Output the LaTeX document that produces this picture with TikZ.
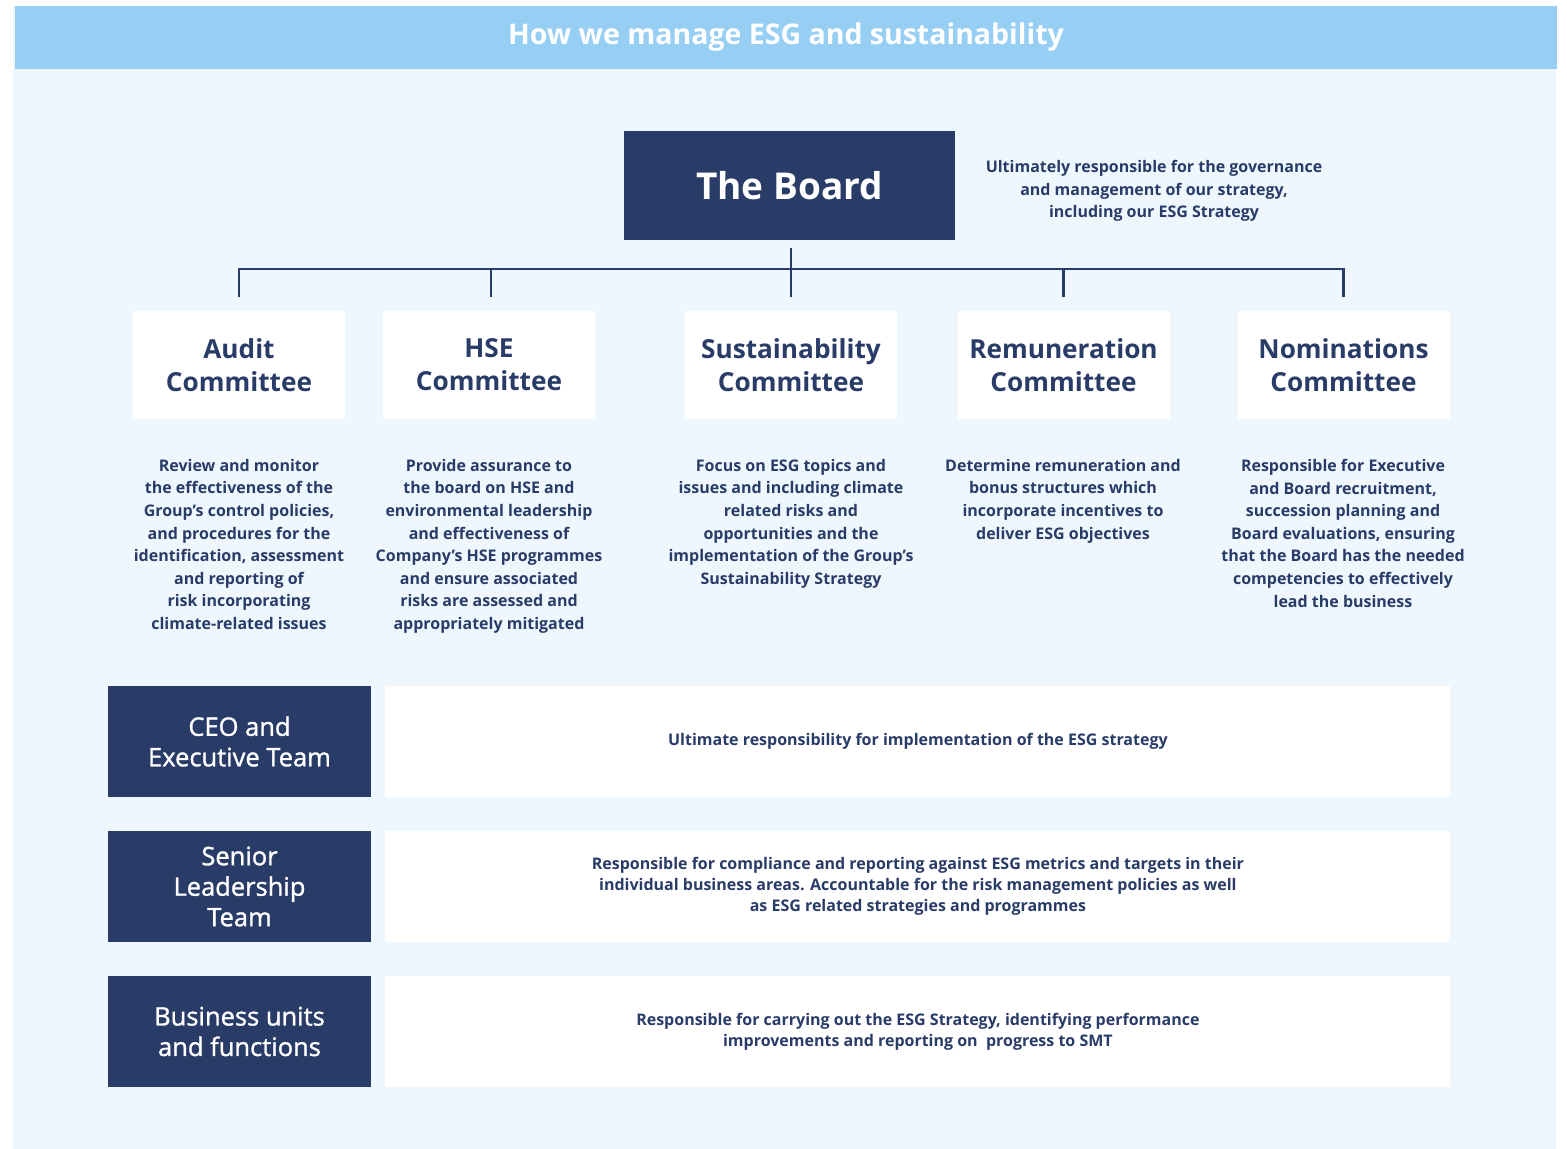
\documentclass[tikz,border=0pt]{standalone}
\usepackage{fontspec}
\setmainfont{Open Sans}
\newfontfamily\medfont{Open Sans}[FakeBold=1.2]
\usetikzlibrary{positioning}
\definecolor{navy}{RGB}{41,59,103}
\definecolor{sky}{RGB}{151,206,243}
\definecolor{pale}{RGB}{239,247,254}
\tikzset{
  dark/.style={fill=navy,text=white,align=center,inner sep=0pt},
  lite/.style={fill=white,text=navy,align=center,inner sep=0pt},
  desc/.style={text=navy,align=center,font=\fontsize{16}{22.6}\selectfont\bfseries,inner sep=0pt},
  ctitle/.style={lite,minimum width=212pt,minimum height=108pt,font=\fontsize{26.2}{33}\selectfont\bfseries},
  rowhead/.style={dark,minimum width=263pt,minimum height=111pt,font=\fontsize{25.5}{30.5}\selectfont\medfont},
  rowbody/.style={lite,minimum width=1065pt,minimum height=111pt,font=\fontsize{16}{21}\selectfont\bfseries},
  link/.style={draw=navy,line width=2.6pt}
}
\begin{document}
\begin{tikzpicture}[x=1pt,y=-1pt]
  \useasboundingbox[fill=white] (0,0) rectangle (1567,1149);
  \fill[pale] (13,6) rectangle (1556,1149);
  \node[fill=sky,minimum width=1542pt,minimum height=63pt,inner sep=0pt,text=white,font=\fontsize{28.5}{32}\selectfont\bfseries] (head) at (786,37.5) {\raisebox{-1.5pt}{How we manage ESG and sustainability}};

  % the board
  \node[dark,minimum width=331pt,minimum height=109pt,font=\fontsize{37}{44}\selectfont\bfseries] (board) at (789.5,185.5) {The Board};
  \node[desc] (boarddesc) at (1154,191) {Ultimately responsible for the governance\\and management of our strategy,\\including our ESG Strategy};

  % committees
  \node[ctitle] (audit) at (239,365) {Audit\\Committee};
  \node[ctitle] (hse) at (489,365) {HSE\\Committee};
  \node[ctitle] (sust) at (791,365) {Sustainability\\Committee};
  \node[ctitle] (rem) at (1063.5,365) {Remuneration\\Committee};
  \node[ctitle] (nom) at (1343.5,365) {Nominations\\Committee};

  \draw[link] ([yshift=14pt]audit.north) -- ++(0,-28) -| ([yshift=14pt]nom.north);
  \draw[link] ([xshift=2pt,yshift=14pt]hse.north) -- ++(0,-28);
  \draw[link] ([yshift=14pt]rem.north) -- ++(0,-28);
  \draw[link] ([yshift=14pt]sust.north) -- ([yshift=-8pt,xshift=1.5pt]board.south);

  \node[desc,anchor=north] (auditdesc) at (239,459) {Review and monitor\\the effectiveness of the\\Group’s control policies,\\and procedures for the\\identification, assessment\\and reporting of\\risk incorporating\\climate-related issues};
  \node[desc,anchor=north] (hsedesc) at (489,459) {Provide assurance to\\the board on HSE and\\environmental leadership\\and effectiveness of\\Company’s HSE programmes\\and ensure associated\\risks are assessed and\\appropriately mitigated};
  \node[desc,anchor=north] (sustdesc) at (791,459) {Focus on ESG topics and\\issues and including climate\\related risks and\\opportunities and the\\implementation of the Group’s\\Sustainability Strategy};
  \node[desc,anchor=north] (remdesc) at (1063,459) {Determine remuneration and\\bonus structures which\\incorporate incentives to\\deliver ESG objectives};
  \node[desc,anchor=north] (nomdesc) at (1343,459) {Responsible for Executive\\and Board recruitment,\\succession planning and\\Board evaluations, ensuring\\that the Board has the needed\\competencies to effectively\\lead the business};

  % management rows
  \node[rowhead] (ceo) at (239.5,741.5) {CEO and\\Executive Team};
  \node[rowbody,right=14pt of ceo] (ceodesc) {Ultimate responsibility for implementation of the ESG strategy};
  \node[rowhead] (slt) at (239.5,886.5) {Senior\\Leadership\\Team};
  \node[rowbody,right=14pt of slt] (sltdesc) {Responsible for compliance and reporting against ESG metrics and targets in their\\individual business areas. Accountable for the risk management policies as well\\as ESG related strategies and programmes};
  \node[rowhead] (bu) at (239.5,1031.5) {Business units\\and functions};
  \node[rowbody,right=14pt of bu] (budesc) {Responsible for carrying out the ESG Strategy, identifying performance\\improvements and reporting on~ progress to SMT};
\end{tikzpicture}
\end{document}
